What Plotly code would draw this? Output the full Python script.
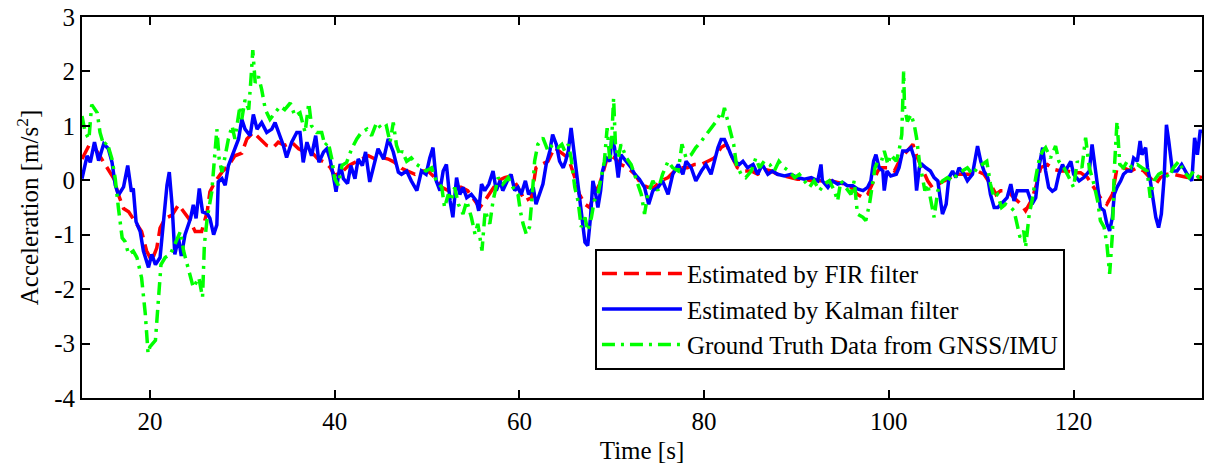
import plotly.graph_objects as go

# FIR filter estimate
t_fir = [12.65, 13.4, 14.1, 14.8, 15.5, 16.1, 16.6, 17.15, 17.7, 18.4, 19.1, 19.65, 20.2, 20.75, 21.1, 21.65,
         22.4, 23.1, 23.65, 24.2, 24.9, 25.6, 26.2, 26.5, 27.05, 27.8, 28.5, 29.2, 29.95, 30.5, 31.2, 31.9,
         32.65, 33.4, 33.9, 34.6, 35.35, 36.1, 36.8, 37.5, 38.2, 38.95, 39.5, 40.0, 40.8, 41.5, 42.2, 43.0,
         43.65, 44.4, 45.1, 45.8, 46.5, 47.24, 47.96, 48.7, 49.4, 50.1, 50.85, 51.6, 52.3, 53.0, 53.7, 54.4,
         55.2, 55.7, 56.25, 57.0, 57.7, 58.4, 59.1, 59.85, 60.6, 61.3, 61.8, 62.4, 63.1, 63.8, 64.54, 65.3,
         66.0, 66.5, 67.1, 67.6, 68.1, 68.7, 69.2, 69.6, 70.3, 71.0, 71.75, 72.5, 73.2, 73.9, 74.6, 75.35,
         76.1, 76.8, 77.5, 78.2, 78.95, 79.7, 80.4, 81.1, 81.84, 82.4, 82.9, 83.6, 84.4, 85.1, 85.8, 86.5,
         87.25, 87.95, 88.7, 89.4, 90.1, 90.85, 91.6, 92.3, 93.0, 93.7, 94.45, 95.2, 95.9, 96.6, 97.2, 97.7,
         98.2, 98.8, 99.14, 99.9, 100.6, 101.3, 102.0, 102.6, 103.1, 103.6, 104.2, 104.7, 105.3, 106.0,
         106.7, 107.4, 108.15, 108.9, 109.6, 110.3, 111.0, 111.6, 112.1, 112.8, 113.55, 114.3, 114.8, 115.4,
         115.9, 116.43, 117.15, 117.9, 118.6, 119.3, 120.0, 120.75, 121.5, 122.2, 122.9, 123.6, 124.2,
         124.7, 125.4, 126.2, 126.9, 127.6, 128.3, 128.9, 129.4, 130.1, 130.8, 131.6, 132.3, 133.0, 133.9]
a_fir = [0.39, 0.64, 0.58, 0.39, 0.21, 0.03, -0.27, -0.52, -0.58, -0.76, -0.94, -1.30, -1.48, -1.24, -0.88, -0.70,
         -0.64, -0.45, -0.58, -0.70, -0.94, -0.94, -0.58, -0.21, -0.03, 0.15, 0.27, 0.45, 0.50, 0.76, 0.88, 0.76,
         0.64, 0.61, 0.70, 0.64, 0.70, 0.58, 0.52, 0.52, 0.39, 0.33, 0.24, 0.09, 0.15, 0.27, 0.33, 0.39,
         0.45, 0.39, 0.42, 0.39, 0.33, 0.22, 0.17, 0.11, 0.17, 0.17, 0.05, -0.13, -0.19, -0.13, -0.13, -0.19,
         -0.38, -0.50, -0.38, -0.19, -0.01, 0.05, 0.08, -0.13, -0.38, -0.32, 0.23, 0.29, 0.35, 0.60, 0.50, 0.41,
         0.05, -0.26, -0.44, -0.50, -0.26, -0.07, 0.23, 0.47, 0.41, 0.29, 0.23, 0.11, -0.07, -0.13, -0.13, -0.01,
         0.05, 0.17, 0.23, 0.23, 0.29, 0.29, 0.35, 0.41, 0.60, 0.66, 0.47, 0.23, 0.17, 0.17, 0.11, 0.20,
         0.17, 0.11, 0.08, 0.05, 0.02, 0.02, -0.01, -0.01, -0.01, -0.01, -0.04, -0.07, -0.13, -0.26, -0.32, -0.26,
         -0.07, 0.17, 0.23, 0.23, 0.17, 0.41, 0.54, 0.66, 0.41, 0.23, -0.01, -0.13, -0.07, -0.01,
         0.05, 0.11, 0.11, 0.11, 0.17, 0.11, -0.07, -0.26, -0.19, -0.19, -0.32, -0.44, -0.56, -0.38,
         -0.13, 0.23, 0.29, 0.20, 0.17, 0.17, 0.14, 0.14, 0.05, -0.13, -0.32, -0.44, -0.26,
         0.23, 0.23, 0.17, 0.23, 0.17, 0.05, -0.07, 0.05, 0.11, 0.11, 0.08, 0.05, 0.08, 0.05]

# Kalman filter estimate
t_kal = [12.65, 13.2, 13.55, 14.0, 14.45, 15.0, 15.5, 15.9, 16.25, 16.6, 17.15, 17.6, 18.0, 18.2, 18.5, 18.95,
         19.3, 19.85, 20.2, 20.6, 21.1, 21.5, 21.85, 22.1, 22.4, 22.7, 23.1, 23.4, 23.8, 24.4, 24.7, 25.0,
         25.35, 25.7, 26.2, 26.5, 26.9, 27.25, 27.4, 27.8, 28.15, 28.5, 29.05, 29.6, 29.95, 30.3, 30.85,
         31.2, 31.6, 32.1, 32.65, 33.2, 33.55, 34.1, 34.45, 34.8, 35.35, 35.9, 36.25, 36.6, 37.0, 37.5,
         37.95, 38.3, 38.8, 39.15, 39.5, 39.85, 40.15, 40.6, 40.95, 41.4, 41.75, 42.2, 42.55, 43.0, 43.35,
         43.8, 44.2, 44.7, 45.3, 45.8, 46.35, 46.9, 47.24, 47.8, 48.3, 48.9, 49.4, 49.9, 50.3, 50.65, 51.0,
         51.4, 51.75, 52.1, 52.5, 52.8, 53.2, 53.55, 53.9, 54.3, 54.8, 55.35, 55.6, 55.9, 56.25, 56.7,
         57.15, 57.5, 57.9, 58.2, 58.7, 59.1, 59.5, 59.85, 60.2, 60.65, 61.0, 61.5, 61.8, 62.2, 62.55,
         62.9, 63.3, 63.6, 64.0, 64.35, 64.75, 65.0, 65.3, 65.6, 65.9, 66.2, 66.5, 66.8, 67.1, 67.4, 67.7,
         67.96, 68.2, 68.5, 68.8, 69.0, 69.4, 69.8, 70.0, 70.3, 70.7, 71.0, 71.6, 72.1, 72.5, 73.0, 73.55,
         74.0, 74.45, 75.0, 75.5, 76.1, 76.6, 77.2, 77.7, 78.05, 78.6, 79.1, 79.7, 80.2, 80.75, 81.1, 81.5,
         81.84, 82.2, 82.6, 82.9, 83.3, 83.8, 84.2, 84.7, 85.3, 85.8, 86.3, 86.9, 87.4, 87.95, 88.7, 89.4,
         90.1, 90.85, 91.6, 92.3, 92.65, 92.8, 93.4, 93.9, 94.45, 95.0, 95.5, 96.1, 96.6, 97.2, 97.7, 98.05,
         98.35, 98.6, 98.95, 99.35, 99.5, 99.8, 100.2, 100.8, 101.1, 101.5, 101.95, 102.4, 102.75, 103.0,
         103.3, 103.6, 104.0, 104.5, 104.9, 105.3, 105.55, 105.8, 106.2, 106.5, 106.9, 107.25, 107.6,
         108.15, 108.5, 109.05, 109.6, 109.95, 110.3, 110.7, 111.0, 111.4, 111.8, 112.3, 112.8, 113.2,
         113.55, 113.9, 114.45, 115.0, 115.5, 115.9, 116.3, 116.65, 116.97, 117.3, 117.7, 118.05, 118.4,
         118.8, 119.1, 119.7, 120.0, 120.6, 121.1, 121.7, 122.0, 122.3, 122.6, 122.9, 123.3, 123.6, 123.9,
         124.2, 124.4, 124.7, 125.1, 125.4, 125.8, 126.2, 126.5, 126.9, 127.2, 127.4, 127.8, 128.0, 128.3,
         128.6, 128.9, 129.2, 129.5, 129.8, 130.05, 130.3, 130.7, 131.2, 131.7, 132.3, 132.8, 133.1, 133.4,
         133.7, 133.9]
a_kal = [0.03, 0.45, 0.33, 0.70, 0.36, 0.67, 0.58, 0.33, -0.09, -0.27, -0.12, 0.27, -0.21, -0.15, -0.76, -0.94,
         -1.30, -1.60, -1.36, -1.55, -1.42, -0.70, -0.09, 0.15, -0.45, -1.36, -1.06, -1.39, -1.00, -0.70, -0.45, -0.70,
         -0.15, -0.58, -0.61, -0.70, -1.00, -0.82, -0.03, 0.03, -0.09, 0.27, 0.52, 0.76, 1.12, 0.94, 0.82,
         1.21, 0.94, 1.06, 0.88, 0.94, 1.06, 0.82, 0.64, 0.42, 0.70, 0.88, 0.88, 0.33, 0.70, 0.45,
         0.82, 0.33, 0.52, 0.58, 0.39, 0.09, -0.21, 0.30, 0.03, -0.06, 0.27, 0.03, 0.39, 0.27, 0.52,
         -0.03, 0.27, 0.58, 0.39, 0.76, 0.52, 0.15, 0.11, 0.17, -0.01, -0.19, 0.17, 0.11, 0.41, 0.60, -0.01,
         -0.19, 0.17, 0.29, -0.38, -0.68, 0.05, -0.26, -0.13, -0.32, -0.26, -0.38, -0.56, -0.07, -0.19, -0.07,
         0.17, -0.19, -0.01, -0.19, -0.01, 0.11, -0.19, -0.13, -0.26, -0.01, -0.26, -0.13, -0.44, -0.26, -0.07,
         0.29, 0.54, 0.84, 0.66, 0.35, 0.23, 0.35, 0.54, 0.96, 0.54, -0.01, -0.32, -0.74, -1.14, -1.20, -0.68,
         -0.01, -0.19, -0.50, -0.19, 0.17, 0.41, 0.35, 0.78, 0.60, 0.05, 0.47, 0.35, 0.23, 0.11, 0.02, -0.13,
         -0.44, -0.19, -0.13, -0.01, -0.26, 0.11, 0.29, 0.11, 0.35, 0.23, -0.01, 0.17, 0.29, 0.11, 0.35, 0.60,
         0.75, 0.75, 0.60, 0.47, 0.35, 0.29, 0.35, 0.23, 0.29, 0.11, 0.29, 0.11, 0.17, 0.11, 0.08, 0.11,
         0.05, 0.02, 0.05, -0.01, 0.29, -0.01, -0.13, -0.01, -0.07, -0.04, -0.10, -0.10, -0.16, -0.19, -0.13, -0.01,
         0.35, 0.47, 0.23, 0.17, -0.19, 0.17, 0.08, 0.11, 0.23, 0.54, 0.54, 0.60, 0.41, -0.19,
         0.23, 0.29, 0.23, 0.17, 0.05, -0.01, -0.32, -0.62, -0.44, 0.05, 0.17, 0.05, 0.23,
         0.11, -0.01, 0.11, 0.63, 0.35, 0.17, 0.05, -0.26, -0.50, -0.50, -0.41, -0.32, -0.07,
         -0.38, -0.19, -0.19, -0.19, -0.44, -0.32, 0.29, 0.60, 0.17, -0.13, -0.20, -0.16, 0.11,
         0.29, 0.17, 0.35, 0.11, -0.01, 0.05, 0.17, 0.66, 0.29, -0.13, -0.50, -0.56, -0.80, -0.93,
         -0.68, -0.26, -0.13, -0.01, 0.11, 0.17, 0.17, 0.41, 0.35, 0.72, 0.47, 0.60, 0.23, -0.01,
         -0.38, -0.68, -0.87, -0.62, 0.05, 1.02, 0.72, 0.17, 0.17, 0.29, 0.11, -0.01, 0.78, 0.47,
         0.90, 0.90]

# Ground truth from GNSS/IMU
t_gt = [12.65, 13.0, 13.4, 13.7, 14.3, 14.6, 15.0, 15.35, 15.9, 16.25, 16.6, 17.0, 17.3, 17.7, 18.2, 18.6,
        19.1, 19.5, 19.8, 20.0, 20.6, 20.9, 21.2, 21.65, 22.2, 22.7, 23.3, 23.65, 24.2, 24.7, 25.3, 25.7,
        25.9, 26.2, 26.7, 26.9, 27.25, 27.5, 27.8, 28.15, 28.5, 28.9, 29.2, 29.75, 29.95, 30.3, 30.7,
        30.96, 31.14, 31.4, 31.75, 32.1, 32.5, 33.0, 33.55, 34.1, 34.6, 35.2, 35.7, 36.25, 36.8, 37.2,
        37.5, 38.05, 38.6, 38.95, 39.3, 39.7, 40.0, 40.4, 40.8, 41.3, 41.85, 42.4, 42.9, 43.5, 44.0,
        44.55, 45.1, 45.6, 46.0, 46.35, 46.7, 47.1, 47.3, 47.8, 48.3, 48.9, 49.4, 49.9, 50.5, 51.0, 51.6,
        51.9, 52.3, 52.6, 53.0, 53.4, 53.9, 54.3, 54.8, 55.2, 55.5, 55.95, 56.3, 56.8, 57.15, 57.7, 58.2,
        58.8, 59.3, 59.85, 60.1, 60.4, 60.75, 61.1, 61.4, 61.65, 62.0, 62.55, 63.1, 63.6, 64.2, 64.6,
        64.9, 65.3, 65.6, 66.0, 66.35, 66.7, 67.1, 67.4, 67.8, 68.1, 68.5, 68.9, 69.2, 69.5, 69.8, 70.0,
        70.2, 70.4, 70.7, 71.0, 71.6, 72.1, 72.65, 73.2, 73.55, 73.9, 74.45, 75.0, 75.5, 76.1, 76.6, 77.2,
        77.6, 78.05, 78.6, 79.1, 79.7, 80.2, 80.75, 81.3, 81.7, 81.95, 82.2, 82.6, 82.9, 83.2, 83.5, 84.0,
        84.5, 85.1, 85.6, 86.0, 86.5, 87.1, 87.6, 88.1, 88.7, 89.2, 89.8, 90.3, 90.85, 91.4, 91.9, 92.5,
        93.0, 93.55, 94.1, 94.45, 94.8, 95.35, 95.9, 96.25, 96.6, 97.2, 97.5, 97.9, 98.2, 98.5, 98.8,
        99.2, 99.5, 99.9, 100.2, 100.8, 101.1, 101.4, 101.6, 101.7, 102.0, 102.4, 102.75, 103.0, 103.3,
        103.6, 103.9, 104.2, 104.5, 104.9, 105.3, 105.8, 106.35, 106.9, 107.4, 107.97, 108.5, 109.05,
        109.6, 110.1, 110.6, 111.0, 111.4, 111.75, 112.2, 112.65, 113.2, 113.55, 113.85, 114.2, 114.6,
        114.8, 115.2, 115.5, 115.9, 116.3, 116.65, 116.97, 117.5, 118.05, 118.4, 118.95, 119.5, 120.0,
        120.4, 120.9, 121.3, 121.7, 122.2, 122.6, 122.9, 123.3, 123.6, 123.9, 124.2, 124.4, 124.7, 125.0,
        125.4, 125.8, 126.3, 126.9, 127.4, 127.96, 128.3, 128.7, 129.2, 129.8, 130.3, 130.8, 131.4,
        131.9, 132.5, 133.0, 133.55, 133.9]
a_gt = [1.18, 0.88, 0.76, 1.39, 1.24, 0.88, 0.64, 0.70, 0.39, 0.03, -0.52, -1.06, -1.12, -1.36, -1.30, -1.42,
        -1.79, -2.45, -3.18, -3.06, -2.94, -2.15, -1.55, -1.42, -1.36, -1.18, -0.94, -1.30, -1.67, -1.97, -1.79, -2.15,
        -1.18, -0.70, -0.21, 0.27, 0.94, 0.39, 0.15, 0.45, 0.76, 1.00, 0.76, 1.36, 1.12, 1.48, 1.30,
        1.91, 2.39, 1.79, 1.91, 1.67, 1.30, 1.12, 1.24, 1.36, 1.30, 1.42, 1.18, 1.24, 0.88, 1.42,
        1.00, 0.88, 0.88, 0.64, 0.70, 0.39, 0.03, -0.09, 0.27, 0.33, 0.58, 0.76, 0.88, 0.94, 0.82,
        1.06, 0.94, 1.00, 0.70, 1.06, 0.64, 0.45, 0.54, 0.35, 0.41, 0.29, 0.23, 0.17, 0.23, -0.01, -0.13,
        -0.50, -0.26, -0.38, -0.13, -0.44, -0.62, -0.38, -0.68, -0.99, -0.80, -1.29, -0.56, -0.80, -0.38, 0.05, -0.07,
        0.05, -0.13, -0.26, -0.56, -0.80, -0.99, -0.86, -0.26, 0.35, 0.66, 0.78, 0.54, 0.66, 0.60, 0.66,
        0.54, 0.66, 0.41, -0.13, -0.38, -0.86, -0.68, -0.93, -0.68, -0.38, -0.26, 0.05, 0.35, 0.96, 0.35, 0.78,
        1.51, 0.66, 0.41, 0.66, 0.41, 0.29, -0.01, -0.26, -0.62, -0.26, -0.01, -0.19, 0.11, 0.35, 0.23, 0.17,
        0.66, 0.41, 0.47, 0.60, 0.72, 0.84, 0.96, 1.08, 1.21, 1.14, 1.33, 1.08, 0.90, 0.66, 0.29, 0.11,
        0.05, 0.17, 0.41, 0.23, 0.35, 0.29, 0.17, 0.35, 0.23, 0.17, 0.05, 0.11, -0.01, -0.13, -0.01, -0.19,
        -0.07, -0.01, -0.19, -0.38, -0.01, -0.13, -0.26, -0.01, -0.62, -0.68, -0.74, -0.44, -0.07, 0.23, 0.35,
        0.35, 0.54, 0.29, 0.47, 0.35, 0.54, 0.84, 2.00, 1.33, 1.08, 1.21, 1.02, 0.78, 0.35,
        0.05, -0.19, -0.07, -0.32, -0.68, -0.19, -0.01, 0.05, -0.01, 0.11, 0.17, 0.23, 0.11,
        0.23, 0.29, 0.35, -0.07, -0.32, -0.26, -0.50, -0.44, -0.50, -0.56, -0.80, -1.05, -0.93,
        -1.23, -0.62, -0.38, 0.05, 0.41, 0.54, 0.60, 0.41, 0.63, 0.35, 0.23, 0.05, -0.13,
        0.35, 0.23, 0.78, 0.23, -0.07, -0.38, -0.74, -0.86, -1.17, -1.72, -0.99, 0.17, 1.08, 0.29,
        0.23, 0.35, 0.23, 0.29, 0.23, 0.17, -0.32, -0.01, 0.11, 0.17, 0.05, 0.23, 0.35,
        0.17, 0.05, 0.17, 0.05, 0.11]

x_ticks = [20, 40, 60, 80, 100, 120]
y_ticks = [-4, -3, -2, -1, 0, 1, 2, 3]
y_tick_text = [str(v) for v in y_ticks]

serif = "Liberation Serif, Times New Roman, serif"
fsize = 25

fig = go.Figure()
fig.add_trace(go.Scatter(x=t_fir, y=a_fir, mode="lines", name="Estimated by FIR filter",
                         line=dict(color="#ff0000", width=3.5, dash="15px,7px")))
fig.add_trace(go.Scatter(x=t_kal, y=a_kal, mode="lines", name="Estimated by Kalman filter",
                         line=dict(color="#0000ff", width=3.5)))
fig.add_trace(go.Scatter(x=t_gt, y=a_gt, mode="lines", name="Ground Truth Data from GNSS/IMU",
                         line=dict(color="#00ff00", width=3.5, dash="13px,6px,3px,6px")))

axis_common = dict(showline=True, linecolor="black", linewidth=2, mirror="allticks",
                   ticks="inside", ticklen=8, tickwidth=1.5, tickcolor="black",
                   showgrid=False, zeroline=False,
                   tickfont=dict(family=serif, size=fsize, color="black"))

fig.update_xaxes(range=[12.65, 133.9], tickvals=x_ticks,
                 title=dict(text="Time [s]", font=dict(family=serif, size=fsize, color="black"), standoff=7),
                 **axis_common)
fig.update_yaxes(range=[-4, 3], tickvals=y_ticks, ticktext=y_tick_text,
                 title=dict(text="Acceleration [m/s<sup>2</sup>]", font=dict(family=serif, size=fsize, color="black"),
                            standoff=8),
                 **axis_common)

fig.update_layout(
    width=1208, height=467,
    margin=dict(l=82, r=4, t=15, b=69),
    plot_bgcolor="white", paper_bgcolor="white",
    showlegend=True,
    legend=dict(x=0.458, y=0.392, xanchor="left", yanchor="top",
                bgcolor="white", bordercolor="black", borderwidth=2,
                font=dict(family=serif, size=fsize, color="black"),
                itemwidth=80, tracegroupgap=0),
)

fig.write_html("out.html")
